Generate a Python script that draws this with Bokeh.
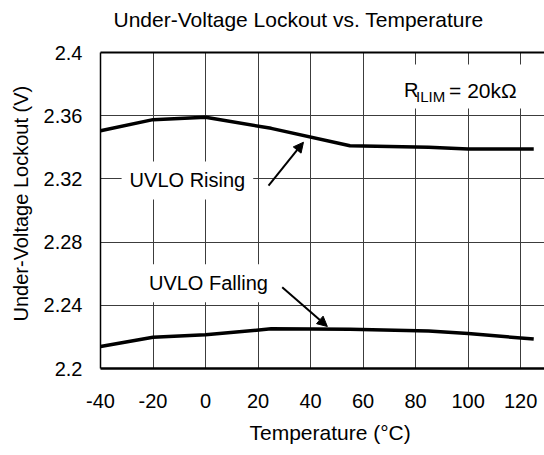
from bokeh.plotting import figure
from bokeh.models import (Label, Arrow, NormalHead, FixedTicker, LinearAxis, Grid,
                          Range1d, ColumnDataSource, Title, BoxAnnotation)
from bokeh.embed import file_html
from bokeh.resources import INLINE

# ---- data ----
temperature = [-40, -20, 0, 25, 55, 85, 100, 125]
uvlo_rising = [2.3505, 2.3575, 2.359, 2.352, 2.341, 2.340, 2.339, 2.339]
uvlo_falling = [2.2139, 2.2198, 2.2213, 2.2251, 2.2248, 2.2238, 2.2222, 2.2186]

x_ticks = [-40, -20, 0, 20, 40, 60, 80, 100, 120]
x_tick_labels = ["-40", "-20", "0", "20", "40", "60", "80", "100", "120"]
y_ticks = [2.2, 2.24, 2.28, 2.32, 2.36, 2.4]
y_tick_labels = ["2.2", "2.24", "2.28", "2.32", "2.36", "2.4"]

title_text = "Under-Voltage Lockout vs. Temperature"
x_label_text = "Temperature (\u00b0C)"
y_label_text = "Under-Voltage Lockout (V)"

# annotation anchors (data units)
rising_label_pos = (-6.9, 2.319)
falling_label_pos = (1.1, 2.254)
rising_arrow = (24.0, 2.3158, 37.3, 2.3432)
falling_arrow = (29.2, 2.2515, 46.4, 2.2266)
rlim_pos = (75.6, 2.3761)
rlim_box = (75.0, 123.8, 2.3646, 2.3924)  # left, right, bottom, top

FONT = "Liberation Sans"
FS = "20px"

p = figure(width=544, height=455, output_backend="svg", toolbar_location=None,
           x_range=Range1d(-40, 129.1), y_range=Range1d(2.2, 2.4),
           x_axis_type=None, y_axis_type=None,
           min_border_left=100, min_border_right=0, min_border_top=52,
           min_border_bottom=87, outline_line_color=None,
           background_fill_color="white", border_fill_color="white")

def style_axis(ax, width):
    ax.axis_line_color = "black"
    ax.axis_line_width = width
    ax.major_tick_line_color = None
    ax.minor_tick_line_color = None
    ax.major_tick_out = 0
    ax.major_tick_in = 0
    ax.major_label_text_font = FONT
    ax.major_label_text_font_size = FS
    ax.major_label_text_color = "black"

xaxis = LinearAxis(ticker=FixedTicker(ticks=x_ticks),
                   major_label_overrides={t: s for t, s in zip(x_ticks, x_tick_labels)})
style_axis(xaxis, 2.5)
xaxis.major_label_standoff = 25
p.add_layout(xaxis, "below")

yaxis = LinearAxis(ticker=FixedTicker(ticks=y_ticks),
                   major_label_overrides={t: s for t, s in zip(y_ticks, y_tick_labels)})
style_axis(yaxis, 1.5)
yaxis.major_label_standoff = 18
p.add_layout(yaxis, "left")

# top frame border (no visible ticks or labels; tick extent only reserves space)
topaxis = LinearAxis(ticker=FixedTicker(ticks=[x_ticks[0]]))
style_axis(topaxis, 2)
topaxis.major_tick_out = 16
topaxis.major_label_text_font_size = "0px"
topaxis.major_label_text_color = None
p.add_layout(topaxis, "above")

for dim, tks in ((0, x_ticks), (1, y_ticks)):
    g = Grid(dimension=dim, ticker=FixedTicker(ticks=tks),
             grid_line_color="#3c3c3c", grid_line_width=1)
    p.add_layout(g, "center")

src = ColumnDataSource(dict(t=temperature, r=uvlo_rising, f=uvlo_falling))
p.line("t", "r", source=src, line_color="black", line_width=3.5)
p.line("t", "f", source=src, line_color="black", line_width=3.5)

# annotations
lab_kw = dict(text_font=FONT, text_color="black",
              background_fill_color="white", background_fill_alpha=1.0)
p.add_layout(Label(x=rising_label_pos[0], y=rising_label_pos[1], text="UVLO Rising",
                   text_align="center", text_baseline="middle", text_font_size=FS,
                   padding=8, **lab_kw))
p.add_layout(Label(x=falling_label_pos[0], y=falling_label_pos[1], text="UVLO Falling",
                   text_align="center", text_baseline="middle", text_font_size=FS,
                   padding=8, **lab_kw))

for (x0, y0, x1, y1) in (rising_arrow, falling_arrow):
    p.add_layout(Arrow(x_start=x0, y_start=y0, x_end=x1, y_end=y1,
                       line_color="black", line_width=2,
                       end=NormalHead(size=10, fill_color="black", line_color="black")))

p.add_layout(BoxAnnotation(left=rlim_box[0], right=rlim_box[1], bottom=rlim_box[2],
                           top=rlim_box[3], fill_color="white", fill_alpha=1.0,
                           line_color=None))
txt = dict(text_font=FONT, text_color="black", text_align="left",
           text_baseline="middle")
p.add_layout(Label(x=rlim_pos[0], y=rlim_pos[1], text="R", text_font_size=FS, **txt))
p.add_layout(Label(x=rlim_pos[0], y=rlim_pos[1], text="ILIM", x_offset=12, y_offset=-6,
                   text_font_size="15px", **txt))
p.add_layout(Label(x=rlim_pos[0], y=rlim_pos[1], text="= 20k\u03a9", x_offset=45,
                   text_font_size="21px", **txt))

# title and axis titles
ttl = dict(text_font=FONT, text_font_style="normal", text_color="black", align="left")
p.add_layout(Title(text=title_text, offset=13, standoff=10, text_font_size="21px",
                   vertical_align="middle", **ttl), "above")
p.add_layout(Title(text=x_label_text, offset=149, standoff=16, text_font_size="21px",
                   vertical_align="bottom", **ttl), "below")
p.add_layout(Title(text=y_label_text, offset=47, standoff=16, text_font_size="20px",
                   vertical_align="middle", **ttl), "left")

open("out.html", "w").write(file_html(p, INLINE))
